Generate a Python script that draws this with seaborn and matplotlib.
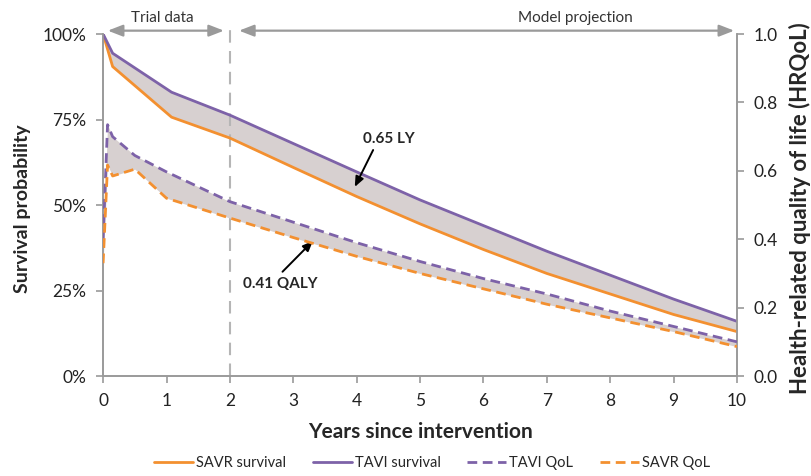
import numpy as np
import pandas as pd
import seaborn as sns
import matplotlib.pyplot as plt
from matplotlib.ticker import FuncFormatter
from matplotlib.lines import Line2D

# === data ===
surv_years = [0, 0.15, 1.08, 2, 3, 4, 5, 6, 7, 8, 9, 10]
savr_surv = [1.0, 0.905, 0.757, 0.696, 0.61, 0.525, 0.445, 0.37, 0.30, 0.24, 0.18, 0.13]
tavi_surv = [1.0, 0.944, 0.83, 0.763, 0.68, 0.597, 0.515, 0.44, 0.365, 0.295, 0.225, 0.16]

qol_years = [0, 0.07, 0.15, 0.5, 1.0, 2, 3, 4, 5, 6, 7, 8, 9, 10]
tavi_qol = [0.40, 0.735, 0.70, 0.645, 0.597, 0.51, 0.45, 0.39, 0.335, 0.285, 0.24, 0.19, 0.145, 0.10]
savr_qol = [0.33, 0.617, 0.585, 0.605, 0.52, 0.462, 0.405, 0.35, 0.30, 0.255, 0.21, 0.17, 0.13, 0.086]

x_ticks = list(range(0, 11))
left_ticks = [0, 0.25, 0.5, 0.75, 1.0]
right_ticks = [0, 0.2, 0.4, 0.6, 0.8, 1.0]

ORANGE = "#f39030"
PURPLE = "#7d62a8"
GREY = "#9a9a9a"
FILL = "#d7d0d0"

sns.set_style("white")
plt.rcParams["font.family"] = ["Lato", "DejaVu Sans"]

surv_df = pd.DataFrame({"year": surv_years * 2,
                        "value": savr_surv + tavi_surv,
                        "series": ["SAVR survival"] * len(surv_years) + ["TAVI survival"] * len(surv_years)})
qol_df = pd.DataFrame({"year": qol_years * 2,
                       "value": tavi_qol + savr_qol,
                       "series": ["TAVI QoL"] * len(qol_years) + ["SAVR QoL"] * len(qol_years)})

fig = plt.figure(figsize=(8.12, 4.76), dpi=100)
ax = fig.add_axes([0.127, 0.21, 0.7806, 0.7184])
ax2 = ax.twinx()

# shaded gaps
ax.fill_between(surv_years, savr_surv, tavi_surv, color=FILL, lw=0, zorder=1)
ax2.fill_between(qol_years, savr_qol, tavi_qol, color=FILL, lw=0, zorder=1)

sns.lineplot(data=surv_df, x="year", y="value", hue="series",
             palette={"SAVR survival": ORANGE, "TAVI survival": PURPLE},
             lw=2.0, ax=ax, legend=False, zorder=3)
sns.lineplot(data=qol_df, x="year", y="value", hue="series",
             palette={"TAVI QoL": PURPLE, "SAVR QoL": ORANGE},
             lw=2.0, ax=ax2, legend=False, zorder=3)
for ln in ax2.get_lines():
    ln.set_dashes([3.5, 2])

for a in (ax, ax2):
    a.set_xlim(0, 10)
    a.set_ylim(0, 1.0)
    for s in a.spines.values():
        s.set_color(GREY)
        s.set_linewidth(1.2)
    a.spines["top"].set_visible(False)
    a.tick_params(colors=GREY, length=5, width=1.2, labelcolor="#222222", labelsize=12.5, pad=7)

ax.set_xticks(x_ticks)
ax.set_yticks(left_ticks)
ax.yaxis.set_major_formatter(FuncFormatter(lambda v, p: f"{v * 100:.0f}%"))
ax2.set_yticks(right_ticks)
ax2.yaxis.set_major_formatter(FuncFormatter(lambda v, p: f"{v:.1f}"))
ax.tick_params(axis="y", left=True)
ax.tick_params(axis="x", bottom=True)
ax2.tick_params(axis="y", right=True)

ax.set_xlabel("Years since intervention", fontsize=15, fontweight="bold")
ax.set_ylabel("Survival probability", fontsize=14, fontweight="bold")
ax2.set_ylabel("Health-related quality of life (HRQoL)", fontsize=16, fontweight="bold")
ax.xaxis.set_label_coords(0.5, -0.135)
ax.yaxis.set_label_coords(-0.113, 0.49)
ax2.yaxis.set_label_coords(1.082, 0.49)

# trial / projection split
ax.axvline(2, ymin=0, ymax=1.03, color="#b5b5b5", lw=1.5, dashes=(6, 4), clip_on=False, zorder=2)
arrow_kw = dict(arrowstyle="<|-|>,head_length=0.9,head_width=0.35", color=GREY, lw=1.6)
ax.annotate("", xy=(0.03, 1.01), xytext=(1.95, 1.01), xycoords="data", arrowprops=arrow_kw, annotation_clip=False)
ax.annotate("", xy=(2.1, 1.01), xytext=(10, 1.01), xycoords="data", arrowprops=arrow_kw, annotation_clip=False)
ax.text(0.93, 1.048, "Trial data", ha="center", va="center", fontsize=11, color="#333333")
ax.text(7.45, 1.048, "Model projection", ha="center", va="center", fontsize=11, color="#333333")

# annotations
head_kw = dict(arrowstyle="-|>,head_length=0.6,head_width=0.25", color="black", lw=1.4, shrinkA=0, shrinkB=0)
ax.text(4.5, 0.693, "0.65 LY", ha="center", va="center", fontsize=11, fontweight="bold")
ax.annotate("", xy=(3.97, 0.553), xytext=(4.26, 0.661), arrowprops=head_kw)
ax.text(2.79, 0.269, "0.41 QALY", ha="center", va="center", fontsize=11, fontweight="bold")
ax.annotate("", xy=(3.31, 0.395), xytext=(2.83, 0.305), arrowprops=head_kw)

handles = [Line2D([], [], color=ORANGE, lw=2),
           Line2D([], [], color=PURPLE, lw=2),
           Line2D([], [], color=PURPLE, lw=2, dashes=[3.5, 2]),
           Line2D([], [], color=ORANGE, lw=2, dashes=[3.5, 2])]
labels = ["SAVR survival", "TAVI survival", "TAVI QoL", "SAVR QoL"]
fig.legend(handles, labels, loc="center", bbox_to_anchor=(0.532, 0.028), ncol=4, frameon=False,
           fontsize=10.5, handlelength=2.7, handletextpad=0.2, columnspacing=1.8)

fig.savefig("out.png", dpi=100)
